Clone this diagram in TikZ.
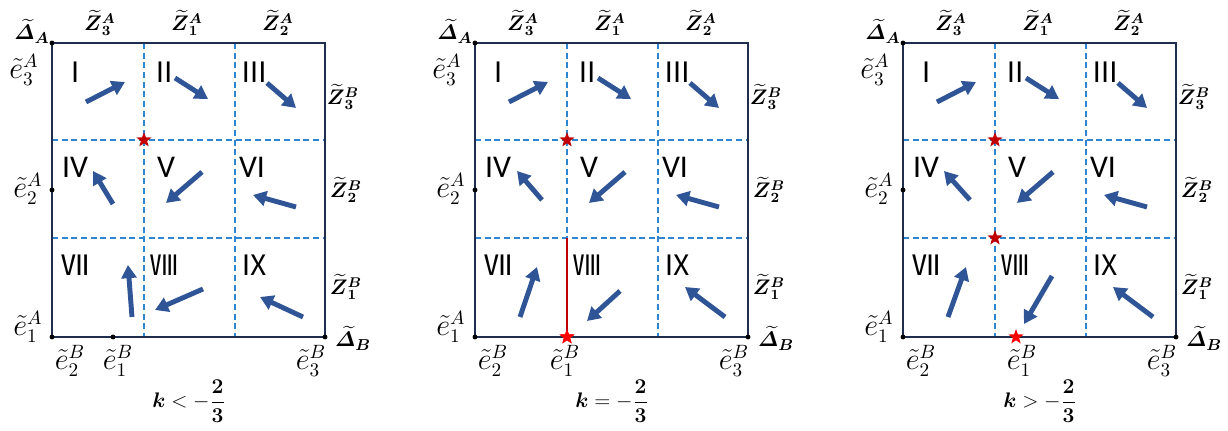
\documentclass[tikz,border=0pt]{standalone}
\usepackage{amsmath}
\usepackage{bm}
\usepackage{fontspec}
\newfontfamily\cjkfont{Noto Sans CJK SC}
\newfontfamily\romfont{Carlito}
\usetikzlibrary{arrows.meta,shapes.geometric}

\definecolor{frameblue}{HTML}{1F2D4E}
\definecolor{gridblue}{HTML}{2E86D0}
\definecolor{arrowblue}{HTML}{2F5597}
\definecolor{darkstar}{HTML}{C00000}
\definecolor{brightstar}{HTML}{FF0000}

\tikzset{
  box/.style={draw=frameblue,line width=1.3pt},
  gridline/.style={gridblue,line width=0.6pt,dash pattern=on 3.5pt off 2pt},
  flow/.style={arrowblue,line width=2.8pt,-{Triangle[length=7.5pt,width=8.5pt]}},
  zlab/.style={font=\fontsize{12}{13}\selectfont,inner sep=1pt},
  dlab/.style={font=\fontsize{13}{14}\selectfont,inner sep=1pt},
  elab/.style={font=\fontsize{16}{17}\selectfont,inner sep=1pt},
  klab/.style={font=\fontsize{12}{13}\selectfont,inner sep=1pt},
  numc/.style={font=\cjkfont\fontsize{16}{16}\selectfont,inner sep=1pt},
  numl/.style={font=\romfont\fontsize{18}{18}\selectfont,inner sep=1pt},
  redstar/.style={star,star points=5,star point ratio=2.4,inner sep=0pt,minimum size=9pt},
}

\begin{document}
\begin{tikzpicture}[x=0.02cm,y=-0.02cm]
\useasboundingbox (0,0) rectangle (1228,431);

% the three panels share frame, grid, labels and five of the arrows
\foreach \p/\ox/\rel/\ex/\lx in {1/0/</113/118,2/423/=/144/142,3/851/>/165/171}{
  \begin{scope}[shift={(\ox,0)}]
    \draw[gridline] (144,43) -- (144,337) (235,43) -- (235,337)
                    (52,140) -- (325,140) (52,238) -- (325,238);
    \draw[box] (52,43) rectangle (325,337);
    \foreach \c in {(52,43),(52,190),(52,337),(325,337),(\ex,337)}
      \fill \c circle (1.4pt);

    \node[dlab] (DA\p) at (32,31) {$\widetilde{\bm{\varDelta}}_{\bm{A}}$};
    \node[dlab] (DB\p) at (353,338) {$\widetilde{\bm{\varDelta}}_{\bm{B}}$};
    \node[zlab] (ZA3\p) at (100,23) {$\widetilde{\bm{Z}}{}_{\bm{3}}^{\bm{A}}$};
    \node[zlab] (ZA1\p) at (187,23) {$\widetilde{\bm{Z}}{}_{\bm{1}}^{\bm{A}}$};
    \node[zlab] (ZA2\p) at (278,23) {$\widetilde{\bm{Z}}{}_{\bm{2}}^{\bm{A}}$};
    \node[zlab] (ZB3\p) at (343,97) {$\widetilde{\bm{Z}}{}_{\bm{3}}^{\bm{B}}$};
    \node[zlab] (ZB2\p) at (346,190) {$\widetilde{\bm{Z}}{}_{\bm{2}}^{\bm{B}}$};
    \node[zlab] (ZB1\p) at (346,287) {$\widetilde{\bm{Z}}{}_{\bm{1}}^{\bm{B}}$};
    \node[elab] (eA3\p) at (24,70) {$\tilde{e}_3^A$};
    \node[elab] (eA2\p) at (28,189) {$\tilde{e}_2^A$};
    \node[elab] (eA1\p) at (28,327) {$\tilde{e}_1^A$};
    \node[elab] (eB2\p) at (70,361) {$\tilde{e}_2^B$};
    \node[elab] (eB1\p) at (\lx,361) {$\tilde{e}_1^B$};
    \node[elab] (eB3\p) at (311,361) {$\tilde{e}_3^B$};
    \node[klab] (k\p) at (189,401) {$\bm{k}\rel-\dfrac{\bm{2}}{\bm{3}}$};

    \node[numc] (r1\p) at (76,72) {Ⅰ};
    \node[numc] (r2\p) at (165,72) {Ⅱ};
    \node[numc] (r3\p) at (255,72) {Ⅲ};
    \node[numl] (r4\p) at (75,167) {IV};
    \node[numl] (r5\p) at (166,167) {V};
    \node[numl] (r6\p) at (252,167) {VI};
    \node[numc] (r7\p) at (76,265) {Ⅶ};
    \node[numc] (r8\p) at (165,265) {Ⅷ};
    \node[numc] (r9\p) at (255,265) {Ⅸ};

    \draw[flow] (86,102) -- (125,82);
    \draw[flow] (175,78) -- (208,99);
    \draw[flow] (267,83) -- (296,108);
    \draw[flow] (202,172) -- (166,203);
    \draw[flow] (296,207) -- (253,195);
  \end{scope}
}

% k < -2/3
\draw[flow] (113,204) -- (93,171);
\draw[flow] (132,317) -- (128,265);
\draw[flow] (203,289) -- (155,310);
\draw[flow] (303,317) -- (260,297);
\node[redstar,fill=darkstar] (s1) at (144,140) {};

% k = -2/3
\begin{scope}[shift={(423,0)}]
  \draw[flow] (119,200) -- (94,171);
  \draw[flow] (97,317) -- (114,267);
  \draw[flow] (197,291) -- (164,321);
  \draw[flow] (302,317) -- (262,287);
  \node[redstar,fill=darkstar] (s2) at (144,140) {};
  \coordinate (c2) at (144,238);
  \node[redstar,fill=brightstar] (b2) at (144,337) {};
  \draw[darkstar,line width=1.2pt] (c2) -- (b2.center);
  \node[redstar,fill=brightstar] at (b2) {};
\end{scope}

% k > -2/3
\begin{scope}[shift={(851,0)}]
  \draw[flow] (119,200) -- (93,171);
  \draw[flow] (97,317) -- (115,267);
  \draw[flow] (201,276) -- (173,324);
  \draw[flow] (302,317) -- (262,287);
  \node[redstar,fill=darkstar] (s3) at (144,140) {};
  \node[redstar,fill=darkstar] (t3) at (144,238) {};
  \node[redstar,fill=brightstar] (b3) at (165,337) {};
\end{scope}
\end{tikzpicture}
\end{document}
